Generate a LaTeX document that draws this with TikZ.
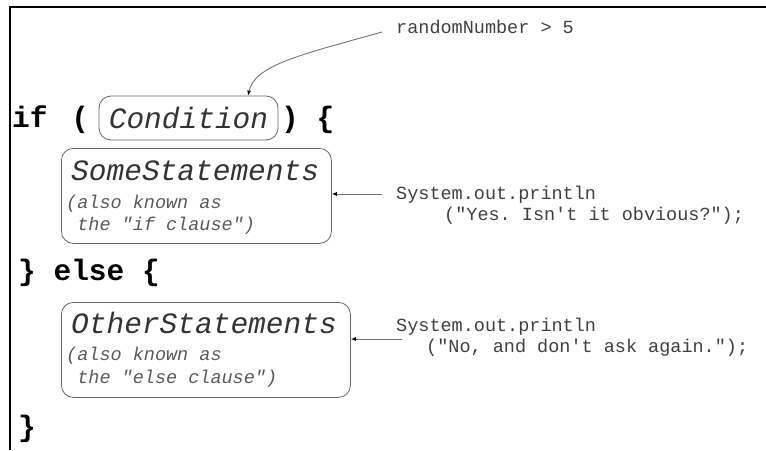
\documentclass[tikz,border=0pt]{standalone}
\usepackage{fontspec}
\setmonofont{Liberation Mono}
\usetikzlibrary{arrows.meta,positioning}

\tikzset{
  kw/.style={font=\ttfamily\bfseries\fontsize{29.5}{30}\selectfont, anchor=base west, inner sep=0pt},
  stmt/.style={font=\ttfamily\itshape\fontsize{29.5}{30}\selectfont, text=black!80, anchor=base west, inner sep=0pt},
  aka/.style={font=\ttfamily\itshape\fontsize{18.5}{19}\selectfont, text=black!65, anchor=base west, inner sep=0pt},
  note/.style={font=\ttfamily\fontsize{18.5}{19}\selectfont, text=black!75, anchor=base west, inner sep=0pt},
  part/.style={draw=black!60, line width=0.8pt, rounded corners=12pt, inner sep=0pt},
  pointer/.style={draw=black!55, line width=0.9pt, -{Latex[length=5pt,width=4pt,black]}},
}

\begin{document}
\begin{tikzpicture}[x=1pt,y=-1pt]
	\useasboundingbox (0,0) rectangle (766,450);
	\draw[line width=1.5pt] (10,450) -- (10,7) -- (766,7);

	% if ( Condition ) {
	\node[kw] (ifkw) at (12,127) {if \kern6pt(};
	\node[part, font=\ttfamily\itshape\fontsize{29.5}{30}\selectfont, text=black!80, minimum width=179pt, minimum height=44pt] (cond) at (188.5,118) {Condition};
	\node[kw] (ifopen) at (281,127) {) \{};

	% if clause
	\node[part, minimum width=270pt, minimum height=95pt, anchor=north west] (some) at (61,148) {};
	\node[stmt] (somename) at (71,180) {SomeStatements};
	\node[aka] (someaka1) at (66,208) {(also known as};
	\node[aka] (someaka2) at (66,230) {\hphantom{(}the "if clause")};

	% else
	\node[kw] (elsekw) at (18,280) {\} else \{};

	% else clause
	\node[part, minimum width=289pt, minimum height=95pt, anchor=north west] (other) at (61,302) {};
	\node[stmt] (othername) at (71,333) {OtherStatements};
	\node[aka] (otheraka1) at (66,360) {(also known as};
	\node[aka] (otheraka2) at (66,383) {\hphantom{(}the "else clause")};

	\node[kw] (endkw) at (18,436) {\}};

	% notes
	\node[note] (cnd) at (396,33) {randomNumber > 5};
	\node[note] (yes1) at (396,199) {System.out.println};
	\node[note] (yes2) at (444,220) {("Yes. Isn't it obvious?");};
	\node[note] (no1) at (396,331) {System.out.println};
	\node[note] (no2) at (426,352) {("No, and don't ask again.");};

	\coordinate (cndtail) at (382,32);
	\coordinate (yestail) at (382,194);
	\coordinate (notail) at (402,339);
	\draw[pointer] (cndtail) .. controls (300,55) and (255,65) .. (cond.north -| 248,0);
	\draw[pointer] (yestail) -- (some.east |- yestail);
	\draw[pointer] (notail) -- (other.east |- notail);
\end{tikzpicture}
\end{document}
